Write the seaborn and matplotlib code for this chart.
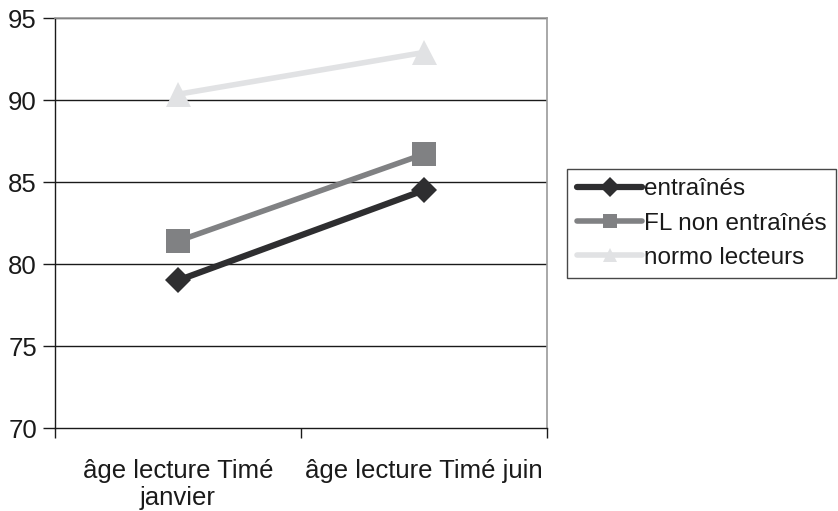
import matplotlib
matplotlib.use("Agg")
import matplotlib.pyplot as plt
import seaborn as sns
import pandas as pd

categories = ["âge lecture Timé\njanvier", "âge lecture Timé juin"]
series_names = ["entraînés", "FL non entraînés", "normo lecteurs"]
entraines = [79.0, 84.5]
fl_non_entraines = [81.4, 86.7]
normo_lecteurs = [90.35, 92.9]
y_ticks = [70, 75, 80, 85, 90, 95]

sns.set_theme(style="white")
plt.rcParams['font.family'] = ['Liberation Sans', 'DejaVu Sans']

rows = []
for name, vals in zip(series_names, [entraines, fl_non_entraines, normo_lecteurs]):
    for i, v in enumerate(vals):
        rows.append({"pos": i, "cat": categories[i], "serie": name, "val": v})
df = pd.DataFrame(rows)

colors = {"entraînés": "#2e2e30", "FL non entraînés": "#808183", "normo lecteurs": "#e1e2e4"}
markers = {"entraînés": "D", "FL non entraînés": "s", "normo lecteurs": "^"}
msizes = {"entraînés": 13.5, "FL non entraînés": 17.5, "normo lecteurs": 18}
lws = {"entraînés": 4.5, "FL non entraînés": 4.0, "normo lecteurs": 4.0}
FS = 18.5

fig = plt.figure(figsize=(8.38, 5.11), dpi=100)
ax = fig.add_axes([55/838, 1-428/511, (547-55)/838, (428-18)/511])

for name in series_names:
    sub = df[df["serie"] == name]
    sns.lineplot(data=sub, x="pos", y="val", ax=ax, color=colors[name],
                 marker=markers[name], markersize=msizes[name], linewidth=lws[name],
                 markeredgewidth=0, label=name, zorder=3)

ax.set_xlim(-0.5, 1.5)
ax.set_ylim(70, 95)
ax.set_yticks(y_ticks)
ax.set_yticklabels([str(t) for t in y_ticks], fontsize=FS, color="#1a1a1a")
for t in y_ticks[1:]:
    ax.axhline(t, color="#1a1a1a", linewidth=1.0, zorder=1)

ax.set_xticks([-0.5, 0.5, 1.5])
ax.set_xticklabels([])
ax.set_xticks(range(len(categories)), minor=True)
ax.set_xticklabels(categories, minor=True, fontsize=FS, color="#1a1a1a", linespacing=1.2)
ax.tick_params(axis="x", which="minor", length=0, pad=22)
ax.tick_params(axis="x", which="major", direction="out", length=7, width=1, color="#1a1a1a", bottom=True)
ax.tick_params(axis="y", direction="out", length=9, width=1, color="#1a1a1a", left=True, pad=4)
ax.set_xlabel("")
ax.set_ylabel("")

for side in ["top", "right"]:
    ax.spines[side].set_color("#9a9a9a")
    ax.spines[side].set_linewidth(1.2)
for side in ["left", "bottom"]:
    ax.spines[side].set_color("#1a1a1a")
    ax.spines[side].set_linewidth(1.0)

leg = ax.legend(loc="center left", bbox_to_anchor=(567/838, 1-223.5/511),
                bbox_transform=fig.transFigure, fontsize=17.5, frameon=True,
                fancybox=False, handlelength=2.7, handletextpad=0.05,
                borderpad=0.4, labelspacing=0.5, borderaxespad=0)
leg.get_frame().set_edgecolor("#1a1a1a")
leg.get_frame().set_linewidth(1.0)
for txt in leg.get_texts():
    txt.set_color("#1a1a1a")
for h in leg.legend_handles:
    h.set_markersize(10)

fig.savefig("out.png", dpi=100)
